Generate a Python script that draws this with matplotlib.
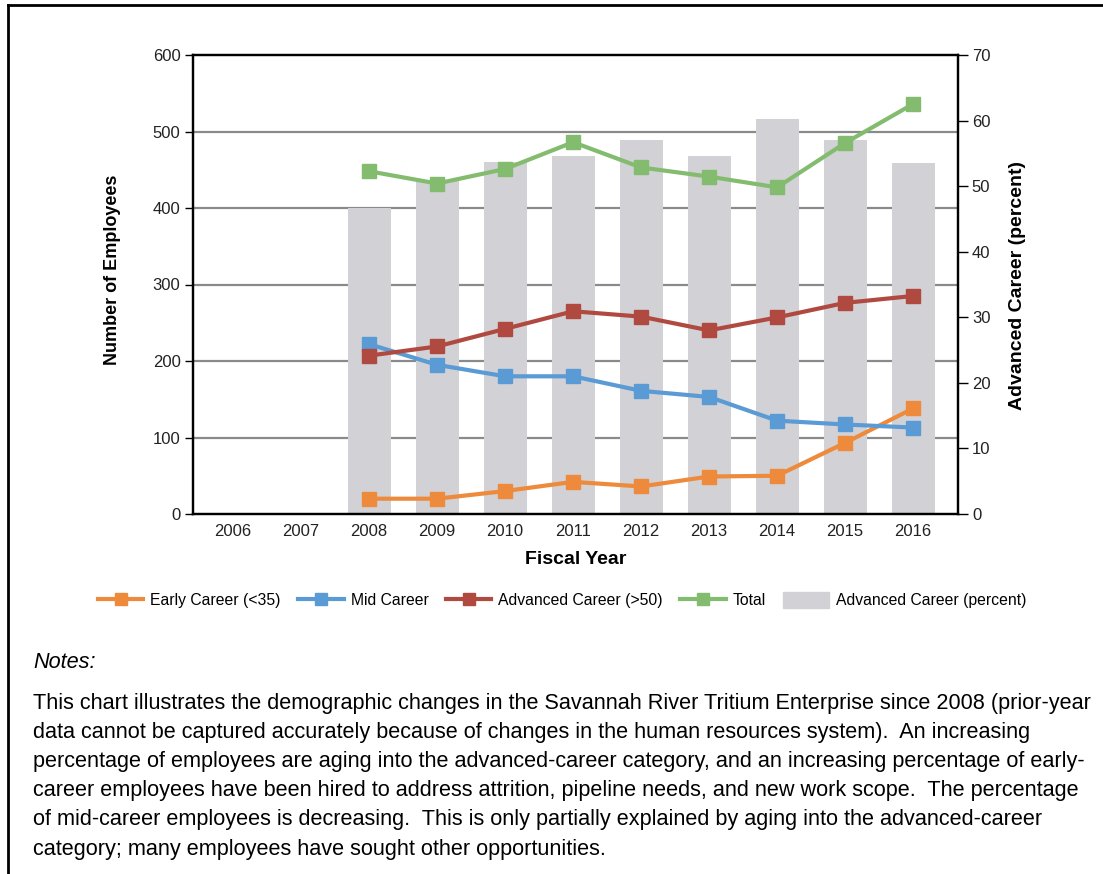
import numpy as np
import matplotlib
matplotlib.use('Agg')
import matplotlib.pyplot as plt
from matplotlib.lines import Line2D
from matplotlib.patches import Patch
from matplotlib.transforms import blended_transform_factory

plt.rcParams['font.family'] = ['Liberation Sans', 'DejaVu Sans']

years = [2006, 2007, 2008, 2009, 2010, 2011, 2012, 2013, 2014, 2015, 2016]
data_years = [2008, 2009, 2010, 2011, 2012, 2013, 2014, 2015, 2016]
early = [20, 20, 30, 42, 36, 49, 50, 93, 138]
mid = [222, 195, 180, 180, 161, 153, 122, 117, 113]
advanced = [207, 219, 242, 265, 258, 240, 257, 276, 285]
total = [448, 432, 451, 486, 453, 441, 427, 485, 536]
adv_pct = [46.7, 50.9, 53.7, 54.6, 57.0, 54.6, 60.2, 57.0, 53.6]

c_early = '#ee8a3c'
c_mid = '#5b9bd5'
c_adv = '#b04a40'
c_total = '#84bc6f'
c_bar = '#d2d2d6'
c_grid = '#8a8a8a'

fig = plt.figure(figsize=(11.03, 8.74), dpi=100)
W, H = 1103, 874

ax = fig.add_axes([193 / W, 1 - 514 / H, (958 - 193) / W, (514 - 55) / H])
ax2 = ax.twinx()

# bars on the percent axis, lines on the employees axis above
ax2.bar(data_years, adv_pct, width=0.63, color=c_bar, zorder=1)
trans = blended_transform_factory(ax2.transAxes, ax.transData)
for v in [100, 200, 300, 400, 500]:
    ax2.plot([0, 1], [v, v], transform=trans, color=c_grid, lw=1.6, zorder=0)

ax.set_zorder(ax2.get_zorder() + 1)
ax.patch.set_visible(False)

ms = 10
lw = 3
ax.plot(data_years, early, color=c_early, lw=lw, marker='s', ms=ms)
ax.plot(data_years, mid, color=c_mid, lw=lw, marker='s', ms=ms)
ax.plot(data_years, advanced, color=c_adv, lw=lw, marker='s', ms=ms)
ax.plot(data_years, total, color=c_total, lw=lw, marker='s', ms=ms)

ax.set_xlim(2005.41, 2016.66)
ax.set_ylim(0, 600)
ax2.set_ylim(0, 70)
ax.set_xticks(years)
ax.set_yticks([0, 100, 200, 300, 400, 500, 600])
ax2.set_yticks([0, 10, 20, 30, 40, 50, 60, 70])

for a in (ax, ax2):
    for s in a.spines.values():
        s.set_linewidth(1.6)
        s.set_color('black')
ax.tick_params(axis='x', length=0, labelsize=12, pad=7, colors='#222222')
ax.tick_params(axis='y', length=6, width=1, labelsize=12, pad=3, colors='#222222')
ax2.tick_params(axis='y', length=7, width=1, labelsize=12, pad=3, colors='#222222')
ax.tick_params(axis='y', color='black')
ax2.tick_params(axis='y', color='black')

ax.set_xlabel('Fiscal Year', fontsize=14, fontweight='bold')
ax.set_ylabel('Number of Employees', fontsize=13, fontweight='bold')
ax2.set_ylabel('Advanced Career (percent)', fontsize=14, fontweight='bold')
ax.xaxis.set_label_coords(0.5, -(560 - 514) / 459, transform=ax.transAxes)
ax.yaxis.set_label_coords((112 - 193) / 765, (514 - 270) / 459)
ax2.yaxis.set_label_coords((1018 - 193) / 765, (514 - 285) / 459)
ax.xaxis.label.set_va('center')
ax.yaxis.label.set_va('center')
ax2.yaxis.label.set_va('center')

handles = [
    Line2D([], [], color=c_early, lw=lw, marker='s', ms=8),
    Line2D([], [], color=c_mid, lw=lw, marker='s', ms=8),
    Line2D([], [], color=c_adv, lw=lw, marker='s', ms=8),
    Line2D([], [], color=c_total, lw=lw, marker='s', ms=8),
    Patch(color=c_bar),
]
labels = ['Early Career (<35)', 'Mid Career', 'Advanced Career (>50)', 'Total',
          'Advanced Career (percent)']
fig.legend(handles, labels, loc='center', bbox_to_anchor=(562 / W, 1 - 600 / H),
           ncol=5, frameon=False, fontsize=11.3, handlelength=2.9, handleheight=1.2,
           handletextpad=0.45, columnspacing=1.1, borderpad=0)

# frame around the figure (top and left edges visible)
fig.add_artist(Line2D([8 / W, 8 / W], [0, 1 - 5 / H], color='black', lw=2,
                      transform=fig.transFigure))
fig.add_artist(Line2D([8 / W, 1], [1 - 5 / H, 1 - 5 / H], color='black', lw=2,
                      transform=fig.transFigure))

fig.text(33 / W, 1 - 662 / H, 'Notes:', fontsize=15.6, style='italic', va='center')
note_lines = [
    'This chart illustrates the demographic changes in the Savannah River Tritium Enterprise since 2008 (prior-year',
    'data cannot be captured accurately because of changes in the human resources system).  An increasing',
    'percentage of employees are aging into the advanced-career category, and an increasing percentage of early-',
    'career employees have been hired to address attrition, pipeline needs, and new work scope.  The percentage',
    'of mid-career employees is decreasing.  This is only partially explained by aging into the advanced-career',
    'category; many employees have sought other opportunities.',
]
for i, line in enumerate(note_lines):
    fig.text(33 / W, 1 - (703 + 29.2 * i) / H, line, fontsize=15.6, va='center')

fig.savefig('out.png', dpi=100)
